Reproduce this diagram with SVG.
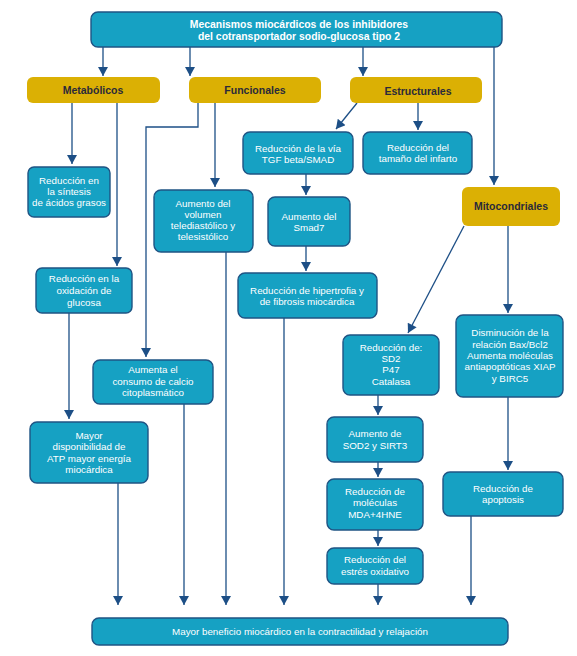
<svg xmlns="http://www.w3.org/2000/svg" width="577" height="656" viewBox="0 0 577 656">
<style>
.b{fill:#16a1c3;stroke:#1f5484;stroke-width:1.4}
.y{fill:#dbb004;stroke:none}
.t{font-family:"Liberation Sans",Arial,sans-serif;font-size:9.8px;fill:#fff;text-anchor:middle}
.h{font-family:"Liberation Sans",Arial,sans-serif;font-size:10.4px;font-weight:bold;fill:#fff;text-anchor:middle}
.c{font-family:"Liberation Sans",Arial,sans-serif;font-size:10.5px;font-weight:bold;fill:#2a2a3a;text-anchor:middle}
.l{fill:none;stroke:#1d4f86;stroke-width:1.3;marker-end:url(#a)}
</style>
<defs>
<marker id="a" markerUnits="userSpaceOnUse" markerWidth="11" markerHeight="10" refX="9" refY="5" orient="auto" viewBox="0 0 9 10">
<path d="M0,0 L9,5 L0,10 z" fill="#1d4f86"/>
</marker>
</defs>
<rect width="577" height="656" fill="#fff"/>
<g id="connectors">
<path class="l" d="M103,47 V76"/>
<path class="l" d="M190,47 V76"/>
<path class="l" d="M363,47 V76"/>
<path class="l" d="M494,47 V185"/>
<path class="l" d="M72,103 V164"/>
<path class="l" d="M117,103 V266"/>
<path class="l" d="M198,103 V127 H146 V357"/>
<path class="l" d="M215,103 V187"/>
<path class="l" d="M357,103 L336,129"/>
<path class="l" d="M418,103 V130"/>
<path class="l" d="M306,174 V195"/>
<path class="l" d="M306,246 V271"/>
<path class="l" d="M69,313 V419"/>
<path class="l" d="M118,483 V605"/>
<path class="l" d="M184,404 V605"/>
<path class="l" d="M226,252 V605"/>
<path class="l" d="M284,318 V605"/>
<path class="l" d="M464,226 L408,333"/>
<path class="l" d="M508,226 V313"/>
<path class="l" d="M378,395 V415"/>
<path class="l" d="M378,462 V477"/>
<path class="l" d="M378,530 V546"/>
<path class="l" d="M378,584 V605"/>
<path class="l" d="M508,397 V470"/>
<path class="l" d="M471,516 V605"/>
</g>
<g id="top"><rect class="b" x="91" y="12" width="411" height="35" rx="7"/>
<text class="h" x="299" y="28">Mecanismos miocárdicos de los inhibidores</text>
<text class="h" x="299" y="40">del cotransportador sodio-glucosa tipo 2</text></g>
<g id="metabolicos"><rect class="y" x="27" y="77" width="133" height="26" rx="6"/><text class="c" x="93" y="94">Metabólicos</text></g>
<g id="funcionales"><rect class="y" x="189" y="77" width="132" height="26" rx="6"/><text class="c" x="255" y="94">Funcionales</text></g>
<g id="estructurales"><rect class="y" x="350" y="77" width="132" height="26" rx="6"/><text class="c" x="418" y="95">Estructurales</text></g>
<g id="mitocondriales"><rect class="y" x="462" y="187" width="98" height="39" rx="6"/><text class="c" x="511" y="210">Mitocondriales</text></g>
<g id="sintesis"><rect class="b" x="28" y="167" width="82" height="50" rx="6"/>
<text class="t" x="69" y="184">Reducción en</text><text class="t" x="69" y="195">la síntesis</text><text class="t" x="69" y="206">de ácidos grasos</text></g>
<g id="oxidacion"><rect class="b" x="36" y="268" width="96" height="45" rx="6"/>
<text class="t" x="84" y="282">Reducción en la</text><text class="t" x="84" y="294">oxidación de</text><text class="t" x="84" y="306">glucosa</text></g>
<g id="atp"><rect class="b" x="30" y="422" width="118" height="61" rx="7"/>
<text class="t" x="89" y="439">Mayor</text><text class="t" x="89" y="450">disponibilidad de</text><text class="t" x="89" y="462">ATP mayor energía</text><text class="t" x="89" y="473">miocárdica</text></g>
<g id="volumen"><rect class="b" x="154" y="190" width="99" height="62" rx="7"/>
<text class="t" x="203" y="207">Aumento del</text><text class="t" x="203" y="218">volumen</text><text class="t" x="203" y="229">telediastólico y</text><text class="t" x="203" y="240">telesistólico</text></g>
<g id="calcio"><rect class="b" x="93" y="360" width="120" height="44" rx="7"/>
<text class="t" x="153" y="373">Aumenta el</text><text class="t" x="153" y="385">consumo de calcio</text><text class="t" x="153" y="396">citoplasmático</text></g>
<g id="tgf"><rect class="b" x="243" y="132" width="110" height="42" rx="7"/>
<text class="t" x="298" y="152">Reducción de la vía</text><text class="t" x="298" y="163">TGF beta/SMAD</text></g>
<g id="infarto"><rect class="b" x="363" y="132" width="109" height="42" rx="7"/>
<text class="t" x="418" y="151">Reducción del</text><text class="t" x="418" y="162">tamaño del infarto</text></g>
<g id="smad7"><rect class="b" x="268" y="197" width="82" height="49" rx="7"/>
<text class="t" x="309" y="220">Aumento del</text><text class="t" x="309" y="231">Smad7</text></g>
<g id="hipertrofia"><rect class="b" x="238" y="273" width="139" height="45" rx="7"/>
<text class="t" x="307" y="294">Reducción de hipertrofia y</text><text class="t" x="307" y="305">de fibrosis miocárdica</text></g>
<g id="reduccion"><rect class="b" x="343" y="335" width="96" height="60" rx="7"/>
<text class="t" x="391" y="351">Reducción de:</text><text class="t" x="391" y="362">SD2</text><text class="t" x="391" y="373">P47</text><text class="t" x="391" y="385">Catalasa</text></g>
<g id="bax"><rect class="b" x="456" y="315" width="107" height="82" rx="7"/>
<text class="t" x="510" y="336">Disminución de la</text><text class="t" x="510" y="348">relación Bax/Bcl2</text><text class="t" x="510" y="359">Aumenta moléculas</text><text class="t" x="510" y="370">antiapoptóticas XIAP</text><text class="t" x="510" y="382">y BIRC5</text></g>
<g id="sod2"><rect class="b" x="327" y="417" width="96" height="45" rx="7"/>
<text class="t" x="375" y="437">Aumento de</text><text class="t" x="375" y="449">SOD2 y SIRT3</text></g>
<g id="mda"><rect class="b" x="327" y="479" width="96" height="51" rx="7"/>
<text class="t" x="375" y="495">Reducción de</text><text class="t" x="375" y="506">moléculas</text><text class="t" x="375" y="518">MDA+4HNE</text></g>
<g id="estres"><rect class="b" x="327" y="548" width="96" height="36" rx="7"/>
<text class="t" x="375" y="563">Reducción del</text><text class="t" x="375" y="575">estrés oxidativo</text></g>
<g id="apoptosis"><rect class="b" x="443" y="472" width="120" height="44" rx="7"/>
<text class="t" x="503" y="492">Reducción de</text><text class="t" x="503" y="503">apoptosis</text></g>
<g id="beneficio"><rect class="b" x="92" y="618" width="416" height="27" rx="7"/>
<text class="t" x="300" y="635">Mayor beneficio miocárdico en la contractilidad y relajación</text></g>
</svg>
